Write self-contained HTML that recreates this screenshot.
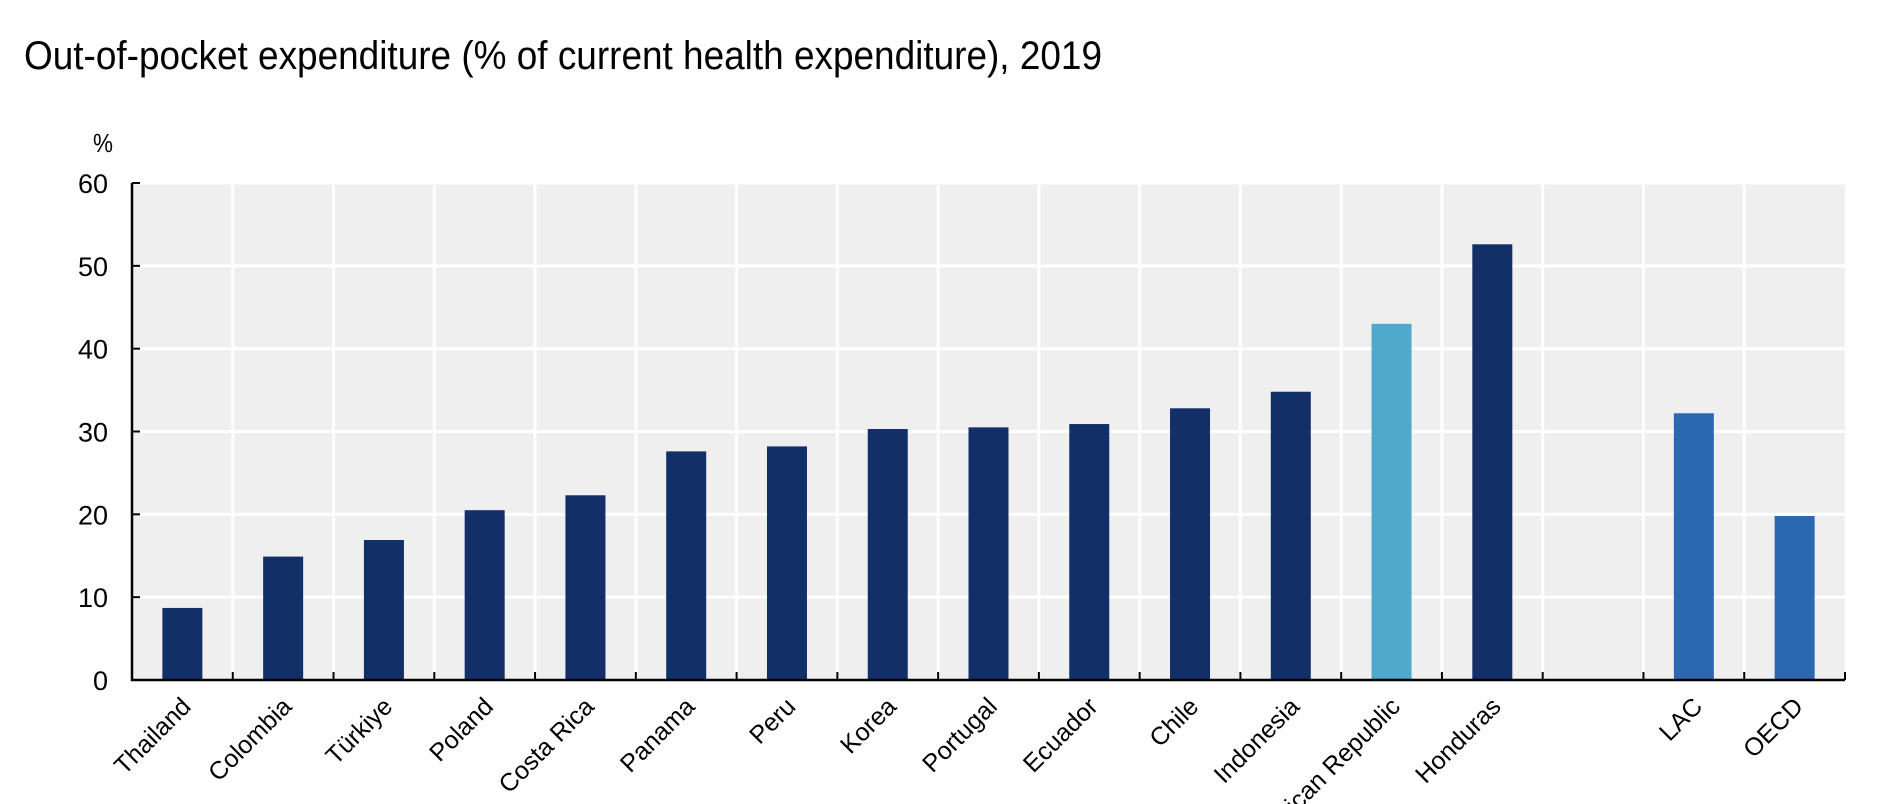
<!DOCTYPE html>
<html><head><meta charset="utf-8"><style>
html,body{margin:0;padding:0;background:#fff;width:1878px;height:804px;overflow:hidden;}
svg{display:block;font-family:"Liberation Sans",Arial,sans-serif;}
</style></head><body>
<svg id="chart" width="1878" height="804" viewBox="0 0 1878 804" xmlns="http://www.w3.org/2000/svg">
<text x="24" y="69" font-size="40" textLength="1078" lengthAdjust="spacingAndGlyphs" fill="#000">Out-of-pocket expenditure (% of current health expenditure), 2019</text>
<text x="93" y="152" font-size="26" textLength="20" lengthAdjust="spacingAndGlyphs" fill="#000">%</text>
<g id="plot"></g>
</svg>
<script>
const categories = ["Thailand","Colombia","Türkiye","Poland","Costa Rica","Panama","Peru","Korea","Portugal","Ecuador","Chile","Indonesia","Dominican Republic","Honduras","","LAC","OECD"];
const values = [8.7,14.9,16.9,20.5,22.3,27.6,28.2,30.3,30.5,30.9,32.8,34.8,43.0,52.6,null,32.2,19.8];
const barKinds = ["c","c","c","c","c","c","c","c","c","c","c","c","h","c","","a","a"];
const yTicks = [0,10,20,30,40,50,60];

const NS="http://www.w3.org/2000/svg";
const g=document.getElementById('plot');
const X0=132,X1=1845,Y0=680,Y1=183,YMAX=60;
const slot=(X1-X0)/categories.length;
const xC=i=>X0+slot*(i+0.5);
const y=v=>Y0-(v/YMAX)*(Y0-Y1);
const colors={c:"#122f68",h:"#4ea9cb",a:"#2b68b1"};
function el(t,a){const e=document.createElementNS(NS,t);for(const k in a)e.setAttribute(k,a[k]);g.appendChild(e);return e;}

const bg=el('rect',{x:X0,y:Y1,width:X1-X0,height:Y0-Y1,fill:'#efefef'});


yTicks.forEach(t=>{
  if(t>0){const l=el('line',{x1:X0,x2:X1,y1:y(t),y2:y(t),stroke:'#fff','stroke-width':3});
  
  }
  const tk=el('line',{x1:X0,x2:X0+8,y1:y(t),y2:y(t),stroke:'#000','stroke-width':2});
  
  
  const tx=el('text',{x:X0-24,y:y(t)+10,'font-size':27,'text-anchor':'end',fill:'#000'});
  tx.textContent=t;
  
  
});
for(let i=1;i<=categories.length;i++){
  const bx=X0+slot*i;
  if(i<categories.length){const l=el('line',{x1:bx,x2:bx,y1:Y1,y2:Y0,stroke:'#fff','stroke-width':3});
  
  }
  const tk=el('line',{x1:bx,x2:bx,y1:Y0-8,y2:Y0,stroke:'#000','stroke-width':2});
  
  
}
categories.forEach((c,i)=>{
  if(values[i]!=null){
    const r=el('rect',{x:xC(i)-20,y:y(values[i]),width:40,height:Y0-y(values[i]),fill:colors[barKinds[i]]});
    
    
  }
  if(c){
    const t=el('text',{x:xC(i)+10,y:Y0+28,'font-size':25,'text-anchor':'end',fill:'#000',transform:`rotate(-45 ${xC(i)+10} ${Y0+28})`});
    t.textContent=c;
    
    
  }
});
const ax=el('line',{x1:X0,x2:X0,y1:Y1,y2:Y0+1,stroke:'#000','stroke-width':2.5});


const xa=el('line',{x1:X0-1,x2:X1,y1:Y0,y2:Y0,stroke:'#000','stroke-width':2.5});


</script>
</body></html>
